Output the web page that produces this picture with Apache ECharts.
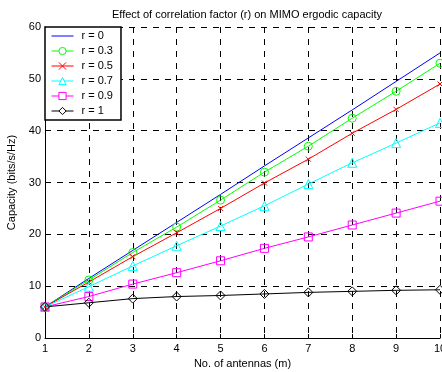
<!DOCTYPE html>
<html><head><meta charset="utf-8">
<script src="https://cdn.jsdelivr.net/npm/echarts@6/dist/echarts.min.js"></script>
<style>html,body{margin:0;padding:0;background:#fff}#c{width:442px;height:372px}</style>
</head><body><div id="c"></div>
<script>
const antennas = [1,2,3,4,5,6,7,8,9,10];
const r0  = [6.0,11.5,16.9,22.3,27.7,33.2,38.6,44.0,49.5,55.0];
const r03 = [6.0,11.2,16.5,21.4,26.6,32.0,37.0,42.4,47.6,53.0];
const r05 = [6.0,10.8,15.7,20.3,25.0,29.9,34.5,39.5,44.1,49.0];
const r07 = [6.0,9.9,13.9,17.8,21.6,25.5,29.7,33.8,37.6,41.5];
const r09 = [6.0,8.0,10.4,12.6,14.9,17.3,19.5,21.8,24.1,26.4];
const r1  = [6.0,6.8,7.6,8.0,8.2,8.5,8.8,9.0,9.2,9.3];
const seriesNames = ['r = 0','r = 0.3','r = 0.5','r = 0.7','r = 0.9','r = 1'];
const xTicks = [1,2,3,4,5,6,7,8,9,10];
const yTicks = [0,10,20,30,40,50,60];

const FONT = 'Liberation Sans';
const crossPath = 'path://M0,0L10,10M10,0L0,10';
function pts(arr){ return antennas.map((x,i)=>[x,arr[i]]); }
function mk(name, data, color, symbol, size){
  return {
    name, type:'line', data: pts(data),
    symbol: symbol, symbolSize: size, showSymbol: symbol !== 'none',
    lineStyle:{color, width:1},
    itemStyle:{color:'rgba(255,255,255,0)', borderColor:color, borderWidth:1},
    emphasis:{disabled:true}, animation:false, z: 3
  };
}
const chart = echarts.init(document.getElementById('c'), null, {renderer:'canvas'});
chart.setOption({
  animation:false,
  backgroundColor:'#fff',
  title:{text:'Effect of correlation factor (r) on MIMO ergodic capacity', left:242, textAlign:'center', top:4,
    textStyle:{fontFamily:FONT, fontSize:11, fontWeight:'normal', color:'#000'}},
  grid:{left:45, right:2, top:27, bottom:34, outerBoundsMode:'none', containLabel:false},
  legend:{
    orient:'vertical', left:45, top:27, backgroundColor:'#fff', borderColor:'#000', borderWidth:1.5,
    padding:[3,8,3,6], itemWidth:22, itemHeight:9, itemGap:3,
    textStyle:{fontFamily:FONT, fontSize:11, color:'#000', lineHeight:12, padding:[0,0,0,3]},
    lineStyle:{width:1},
    itemStyle:{color:'#fff', borderWidth:1},
    data: [
      {name: seriesNames[0], icon:'path://M0,4.5L22,4.5L22,5.5L0,5.5Z', itemStyle:{color:'#0000ff', borderWidth:0}},
      seriesNames[1], seriesNames[2], seriesNames[3], seriesNames[4], seriesNames[5]
    ]
  },
  xAxis:{type:'value', min:1, max:10, interval:1,
    name:'No. of antennas (m)', nameLocation:'middle', nameGap:18,
    nameTextStyle:{fontFamily:FONT, fontSize:11, color:'#000'},
    axisLine:{show:true, onZero:false, lineStyle:{color:'#000', width:1}},
    axisTick:{show:true, inside:true, length:4, lineStyle:{color:'#000'}},
    axisLabel:{fontFamily:FONT, fontSize:11, color:'#000', margin:5, hideOverlap:false,
      formatter:v=>xTicks.includes(v)?String(v):''},
    splitLine:{show:true, lineStyle:{color:'#000', type:[6,6], width:1}}
  },
  yAxis:{type:'value', min:0, max:60, interval:10,
    name:'Capacity (bits/s/Hz)', nameLocation:'middle', nameGap:27, nameRotate:90,
    nameTextStyle:{fontFamily:FONT, fontSize:11, color:'#000'},
    axisLine:{show:true, lineStyle:{color:'#000', width:1}},
    axisTick:{show:true, inside:true, length:4, lineStyle:{color:'#000'}},
    axisLabel:{fontFamily:FONT, fontSize:11, color:'#000', margin:4,
      formatter:v=>yTicks.includes(v)?String(v):''},
    splitLine:{show:true, lineStyle:{color:'#000', type:[6,6], width:1}}
  },
  series:[
    mk(seriesNames[0], r0, '#0000ff', 'none', 0),
    mk(seriesNames[1], r03, '#00ff00', 'circle', 8),
    mk(seriesNames[2], r05, '#ff0000', crossPath, 5),
    mk(seriesNames[3], r07, '#00ffff', 'triangle', 9),
    mk(seriesNames[4], r09, '#ff00ff', 'rect', 8),
    mk(seriesNames[5], r1, '#000000', 'diamond', 9)
  ]
});
</script></body></html>
